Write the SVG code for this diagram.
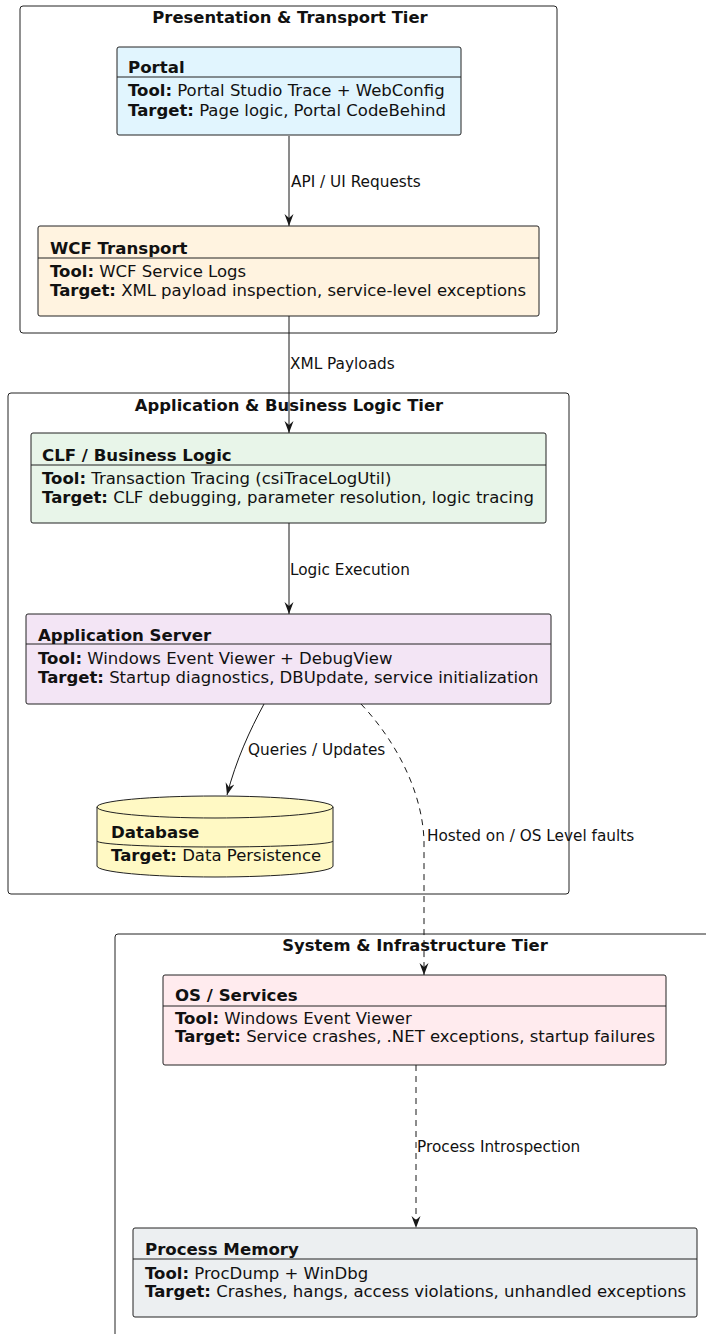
<svg xmlns="http://www.w3.org/2000/svg" width="706" height="1334" viewBox="0 0 706 1334">
<defs>
<marker id="arr" viewBox="0 0 12 10" refX="12" refY="5" markerWidth="12" markerHeight="10" markerUnits="userSpaceOnUse" orient="auto">
<path d="M0,0.5 L12,5 L0,9.5 L4,5 z" fill="#181818"/>
</marker>
<style>
text{font-family:"DejaVu Sans","Liberation Sans",sans-serif;fill:#111}
.tier{fill:none;stroke:#222;stroke-width:1}
.tt{font-size:16.4px;font-weight:bold;text-anchor:middle}
.box{stroke:#222;stroke-width:1}
.nt{font-size:16.6px;font-weight:bold}
.nb{font-size:16.5px}
.b{font-weight:bold}
.div{stroke:#222;stroke-width:1}
.e{fill:none;stroke:#181818;stroke-width:1}
.d{stroke-dasharray:6,5}
.el{font-size:15.3px}
</style>
</defs>
<rect width="706" height="1334" fill="#fff"/>

<g id="tier-presentation">
<rect class="tier" x="20" y="6" width="537" height="327" rx="3"/>
<text class="tt" x="290" y="23">Presentation &amp; Transport Tier</text>
</g>
<g id="tier-application">
<rect class="tier" x="8" y="393" width="561" height="501" rx="3"/>
<text class="tt" x="289" y="411">Application &amp; Business Logic Tier</text>
</g>
<g id="tier-system">
<path class="tier" d="M115,1334 L115,937 Q115,934 118,934 L706,934"/>
<text class="tt" x="415" y="951">System &amp; Infrastructure Tier</text>
</g>

<g id="edges">
<path class="e" d="M289,136 L289,226" marker-end="url(#arr)"/>
<path class="e" d="M289,316 L289,433" marker-end="url(#arr)"/>
<path class="e" d="M289,523 L289,614" marker-end="url(#arr)"/>
<path class="e" d="M264,704 C250,730 236,760 227,795" marker-end="url(#arr)"/>
<path class="e d" d="M361,704 C395,740 422,790 424,840 L424,975" marker-end="url(#arr)"/>
<path class="e d" d="M416,1065 L416,1228" marker-end="url(#arr)"/>
<text class="el" x="291" y="187">API / UI Requests</text>
<text class="el" x="290" y="369">XML Payloads</text>
<text class="el" x="290" y="575">Logic Execution</text>
<text class="el" x="248" y="755">Queries / Updates</text>
<text class="el" x="427" y="841">Hosted on / OS Level faults</text>
<text class="el" x="417" y="1152">Process Introspection</text>
</g>

<g id="portal">
<rect class="box" x="117" y="47" width="344" height="88" rx="2" fill="#E1F5FE"/>
<line class="div" x1="117" y1="77" x2="461" y2="77"/>
<text class="nt" x="128" y="73">Portal</text>
<text class="nb" x="128" y="96"><tspan class="b">Tool:</tspan> Portal Studio Trace + WebConfig</text>
<text class="nb" x="128" y="116"><tspan class="b">Target:</tspan> Page logic, Portal CodeBehind</text>
</g>

<g id="wcf">
<rect class="box" x="38" y="226" width="501" height="90" rx="2" fill="#FFF3E0"/>
<line class="div" x1="38" y1="258" x2="539" y2="258"/>
<text class="nt" x="50" y="254">WCF Transport</text>
<text class="nb" x="50" y="277"><tspan class="b">Tool:</tspan> WCF Service Logs</text>
<text class="nb" x="50" y="296"><tspan class="b">Target:</tspan> XML payload inspection, service-level exceptions</text>
</g>

<g id="clf">
<rect class="box" x="31" y="433" width="515" height="90" rx="2" fill="#E8F5E9"/>
<line class="div" x1="31" y1="465" x2="546" y2="465"/>
<text class="nt" x="42" y="461">CLF / Business Logic</text>
<text class="nb" x="42" y="484"><tspan class="b">Tool:</tspan> Transaction Tracing (csiTraceLogUtil)</text>
<text class="nb" x="42" y="503"><tspan class="b">Target:</tspan> CLF debugging, parameter resolution, logic tracing</text>
</g>

<g id="appserver">
<rect class="box" x="26" y="614" width="525" height="90" rx="2" fill="#F3E5F5"/>
<line class="div" x1="26" y1="644" x2="551" y2="644"/>
<text class="nt" x="38" y="641">Application Server</text>
<text class="nb" x="38" y="664"><tspan class="b">Tool:</tspan> Windows Event Viewer + DebugView</text>
<text class="nb" x="38" y="683"><tspan class="b">Target:</tspan> Startup diagnostics, DBUpdate, service initialization</text>
</g>

<g id="database">
<path class="box" fill="#FFF9C4" d="M97,807 A118,11 0 0 1 333,807 L333,866 A118,11 0 0 1 97,866 Z"/>
<path class="div" fill="none" d="M97,807 A118,11 0 0 0 333,807"/>
<path class="div" fill="none" d="M97,841 A118,6 0 0 0 333,841"/>
<text class="nt" x="111" y="838">Database</text>
<text class="nb" x="111" y="861"><tspan class="b">Target:</tspan> Data Persistence</text>
</g>

<g id="os">
<rect class="box" x="163" y="975" width="503" height="90" rx="2" fill="#FFEBEE"/>
<line class="div" x1="163" y1="1006" x2="666" y2="1006"/>
<text class="nt" x="175" y="1001">OS / Services</text>
<text class="nb" x="175" y="1024"><tspan class="b">Tool:</tspan> Windows Event Viewer</text>
<text class="nb" x="175" y="1042"><tspan class="b">Target:</tspan> Service crashes, .NET exceptions, startup failures</text>
</g>

<g id="procmem">
<rect class="box" x="133" y="1228" width="564" height="89" rx="2" fill="#ECEFF1"/>
<line class="div" x1="133" y1="1259" x2="697" y2="1259"/>
<text class="nt" x="145" y="1255">Process Memory</text>
<text class="nb" x="145" y="1279"><tspan class="b">Tool:</tspan> ProcDump + WinDbg</text>
<text class="nb" x="145" y="1297"><tspan class="b">Target:</tspan> Crashes, hangs, access violations, unhandled exceptions</text>
</g>
</svg>
